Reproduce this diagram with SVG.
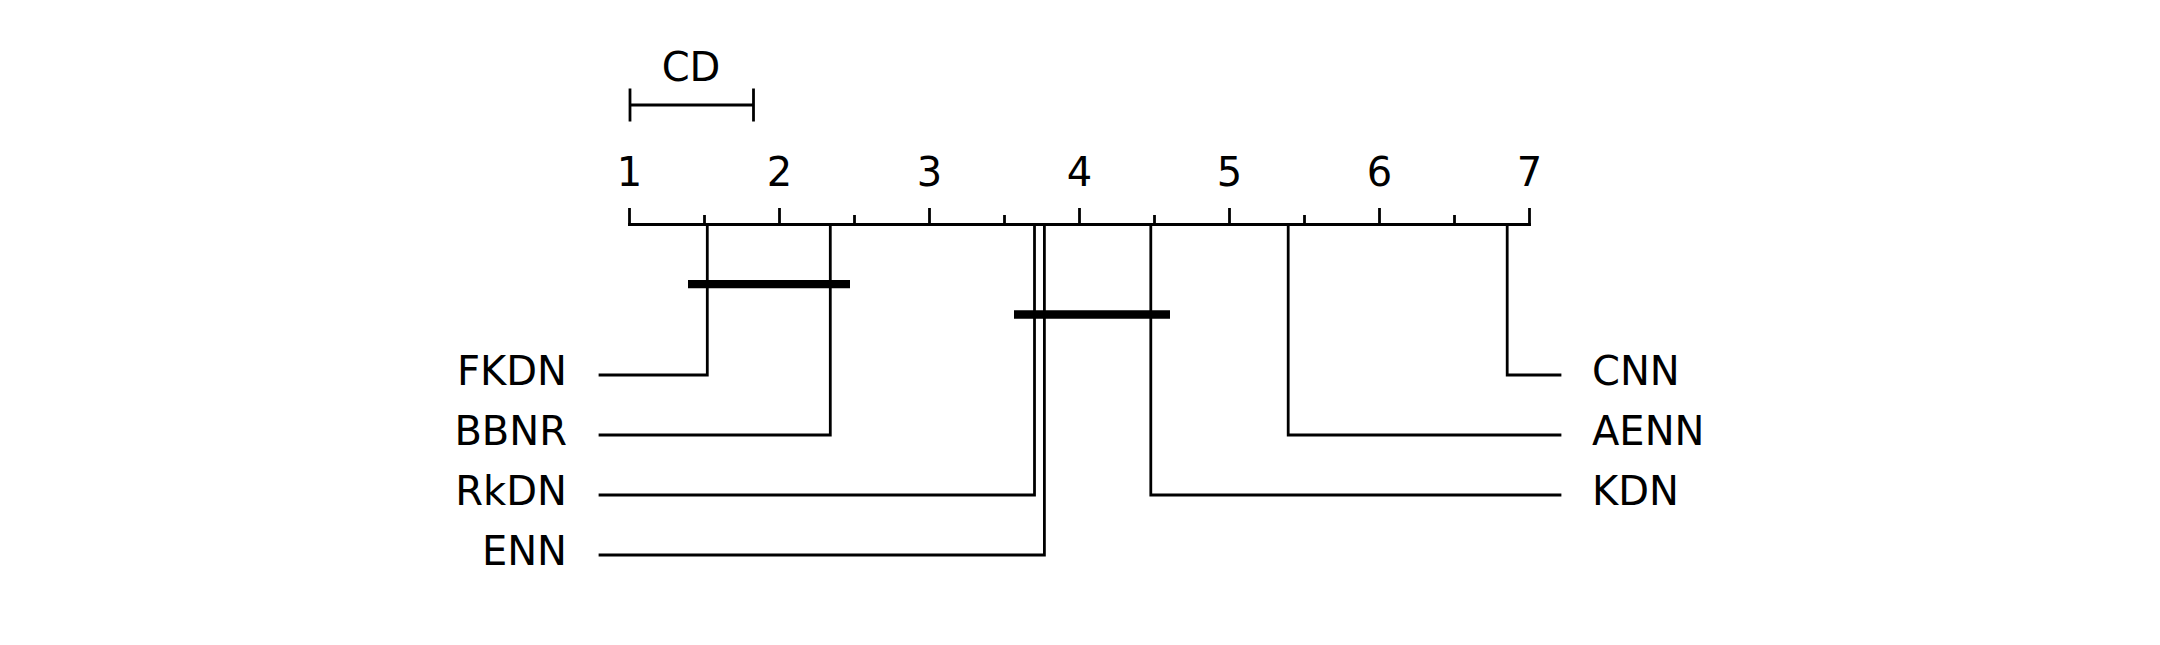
<svg xmlns="http://www.w3.org/2000/svg" width="2160" height="645" viewBox="0 0 2160 645">
<style>
.ln{stroke:#000;stroke-width:2.78;fill:none;stroke-linecap:square;stroke-linejoin:miter}
.bar{stroke:#000;stroke-width:8.33;fill:none;stroke-linecap:butt}
text{font-family:"DejaVu Sans",sans-serif;font-size:40px;fill:#000}
.l{text-anchor:end}
.r{text-anchor:start}
.c{text-anchor:middle}
</style>
<rect width="2160" height="645" fill="#fff"/>
<g id="cd">
<path class="ln" d="M630,105 H753.5 M630,90 V120 M753.5,90 V120"/>
<text class="c" x="691" y="80.5">CD</text>
</g>
<g id="axis">
<path class="ln" d="M629.5,224.5 H1529.5"/>
<path class="ln" d="M629.5,209.5 V224.5 M779.5,209.5 V224.5 M929.5,209.5 V224.5 M1079.5,209.5 V224.5 M1229.5,209.5 V224.5 M1379.5,209.5 V224.5 M1529.5,209.5 V224.5"/>
<path class="ln" d="M704.5,216.5 V224.5 M854.5,216.5 V224.5 M1004.5,216.5 V224.5 M1154.5,216.5 V224.5 M1304.5,216.5 V224.5 M1454.5,216.5 V224.5"/>
<text class="c" x="629.5" y="185.5">1</text>
<text class="c" x="779.5" y="185.5">2</text>
<text class="c" x="929.5" y="185.5">3</text>
<text class="c" x="1079.5" y="185.5">4</text>
<text class="c" x="1229.5" y="185.5">5</text>
<text class="c" x="1379.5" y="185.5">6</text>
<text class="c" x="1529.5" y="185.5">7</text>
</g>
<g id="connectors">
<path class="ln" d="M707.3,224.5 V375 H600"/>
<path class="ln" d="M830.3,224.5 V435 H600"/>
<path class="ln" d="M1034.5,224.5 V495 H600"/>
<path class="ln" d="M1044.4,224.5 V555 H600"/>
<path class="ln" d="M1507.2,224.5 V375 H1560"/>
<path class="ln" d="M1288.2,224.5 V435 H1560"/>
<path class="ln" d="M1150.8,224.5 V495 H1560"/>
</g>
<g id="cliques">
<path class="bar" d="M688,284.2 H850"/>
<path class="bar" d="M1014,314.5 H1170"/>
</g>
<g id="FKDN"><text class="l" x="567" y="384.8">FKDN</text></g>
<g id="BBNR"><text class="l" x="567" y="444.8">BBNR</text></g>
<g id="RkDN"><text class="l" x="567" y="504.8">RkDN</text></g>
<g id="ENN"><text class="l" x="567" y="564.8">ENN</text></g>
<g id="CNN"><text class="r" x="1592" y="384.8">CNN</text></g>
<g id="AENN"><text class="r" x="1592" y="444.8">AENN</text></g>
<g id="KDN"><text class="r" x="1592" y="504.8">KDN</text></g>
</svg>
